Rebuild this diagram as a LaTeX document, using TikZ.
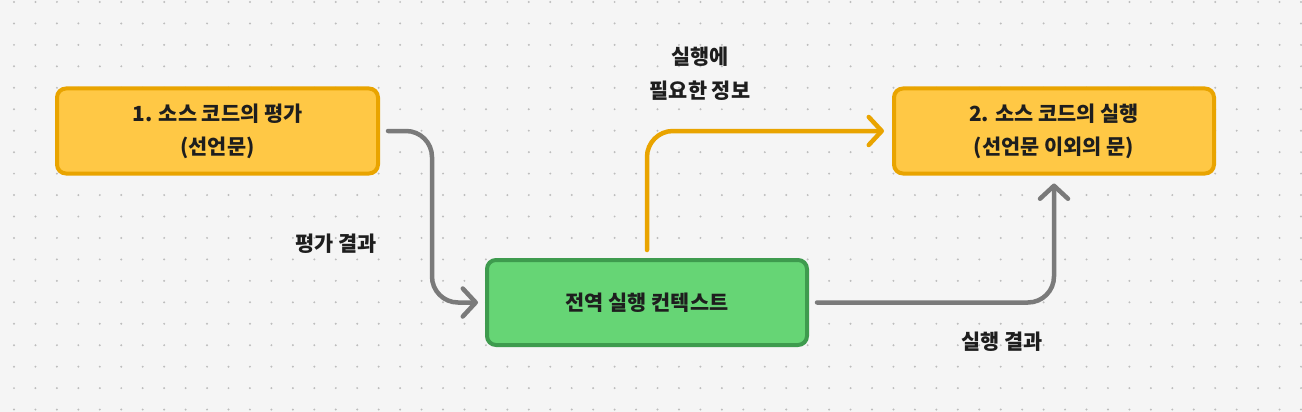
\documentclass[tikz,border=0pt]{standalone}
\usepackage{fontspec}
\setmainfont{Noto Sans CJK KR}
\usetikzlibrary{arrows.meta,calc}
\definecolor{bgc}{HTML}{F5F5F5}
\definecolor{dotc}{HTML}{BDBDBD}
\definecolor{ofill}{HTML}{FFC845}
\definecolor{oline}{HTML}{E9A400}
\definecolor{gfill}{HTML}{66D575}
\definecolor{gline}{HTML}{3E9B4E}
\definecolor{arrgray}{HTML}{7A7A7A}
\definecolor{txt}{HTML}{1E1E1E}
\begin{document}
\begin{tikzpicture}[x=1pt,y=-1pt,
  box/.style={rectangle, rounded corners=9pt, line width=4pt, minimum width=320pt,
    minimum height=85pt, inner sep=0pt, align=center,
    font=\fontsize{20.8}{33}\selectfont\bfseries, text=txt},
  obox/.style={box, fill=ofill, draw=oline},
  gbox/.style={box, fill=gfill, draw=gline},
  conn/.style={line width=4.5pt, rounded corners=26pt, line cap=round, line join=round,
    -{Straight Barb[length=13pt,width=28pt,round]}},
  lbl/.style={font=\fontsize{20.8}{34}\selectfont\bfseries, text=txt, align=center, inner sep=0pt}]
\fill[bgc] (0,0) rectangle (1302,412);
\useasboundingbox (0,0) rectangle (1302,412);
\foreach \i in {0,...,60}
  \foreach \j in {0,...,19}
    \fill[dotc] (14+\i*21.45, 2+\j*21.45) circle (1.1pt);

\node[obox, minimum width=321pt] (b1) at (217.5,131) {1. 소스 코드의 평가\\(선언문)};
\node[obox] (b2) at (1054,131) {2. 소스 코드의 실행\\(선언문 이외의 문)};
\node[gbox] (g) at (647,302.5) {전역 실행 컨텍스트};

\coordinate (s1) at ([xshift=8pt]b1.east);
\coordinate (e1) at ([xshift=-7pt]g.west);
\draw[conn, arrgray] (s1) -- ++(44,0) |- (e1);

\coordinate (s2) at ([yshift=8pt]g.north);
\coordinate (e2) at ([xshift=-8pt]b2.west);
\draw[conn, oline] (s2) |- (e2);

\coordinate (s3) at ([xshift=8pt]g.east);
\coordinate (e3) at ([yshift=-8pt]b2.south);
\draw[conn, arrgray] (s3) -| (e3);

\node[lbl] (l1) at (336,244) {평가 결과};
\node[lbl] (l2) at (700,74) {실행에\\필요한 정보};
\node[lbl] (l3) at (1002,342) {실행 결과};
\end{tikzpicture}
\end{document}
